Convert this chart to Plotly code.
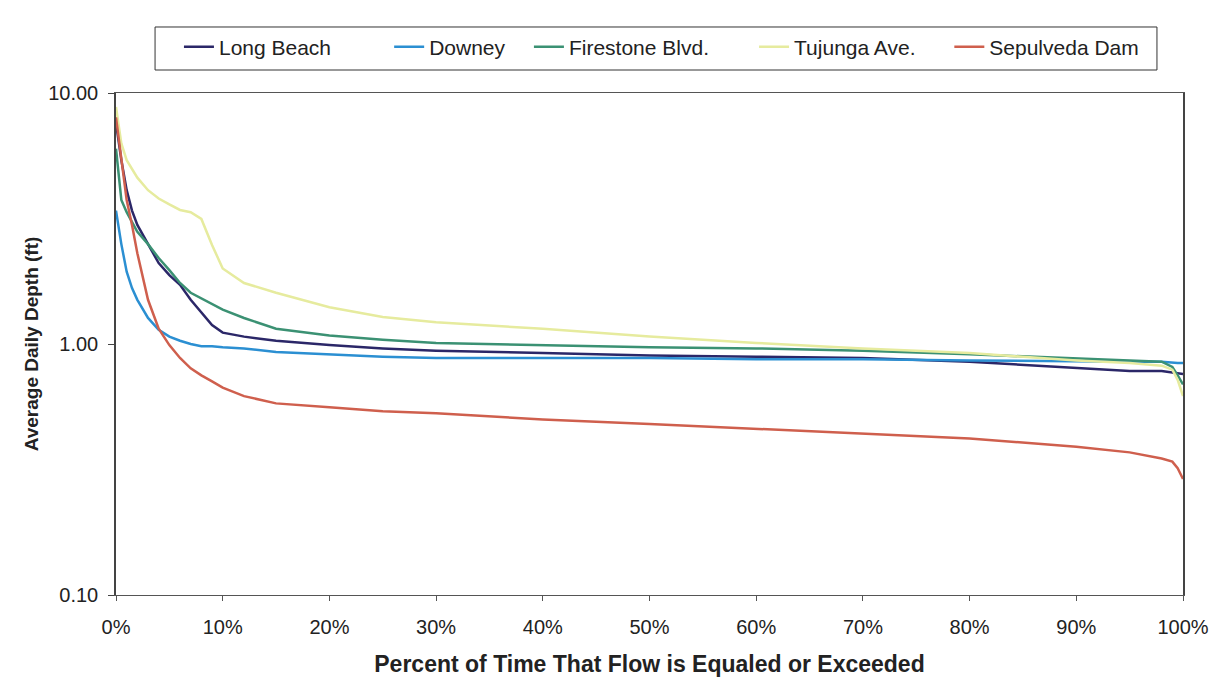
import plotly.graph_objects as go

pct = [0, 0.5, 1, 1.5, 2, 3, 4, 5, 6, 7, 8, 9, 10, 12, 15, 20, 25, 30, 40, 50,
       60, 70, 80, 90, 95, 98, 99, 99.5, 100]

long_beach = [7.6, 5.4, 4.1, 3.4, 2.98, 2.5, 2.1, 1.88, 1.72, 1.5, 1.33, 1.19, 1.11,
              1.07, 1.03, 0.99, 0.96, 0.94, 0.92, 0.90, 0.89, 0.88, 0.85, 0.80, 0.78,
              0.78, 0.77, 0.77, 0.76]
downey = [3.4, 2.5, 1.94, 1.67, 1.5, 1.27, 1.14, 1.07, 1.03, 1.0, 0.98, 0.98, 0.97,
          0.96, 0.93, 0.91, 0.89, 0.88, 0.88, 0.88, 0.87, 0.87, 0.86, 0.85, 0.85,
          0.85, 0.84, 0.84, 0.84]
firestone = [6.0, 3.75, 3.35, 3.05, 2.8, 2.5, 2.2, 1.97, 1.75, 1.6, 1.52, 1.44, 1.37,
             1.27, 1.15, 1.08, 1.04, 1.01, 0.99, 0.97, 0.96, 0.94, 0.91, 0.88, 0.86,
             0.85, 0.81, 0.75, 0.69]
tujunga = [8.8, 6.3, 5.4, 5.0, 4.6, 4.1, 3.8, 3.6, 3.42, 3.35, 3.15, 2.48, 2.0,
           1.75, 1.60, 1.40, 1.28, 1.22, 1.15, 1.07, 1.01, 0.96, 0.92, 0.86, 0.84,
           0.82, 0.79, 0.72, 0.62]
sepulveda = [8.0, 5.4, 3.75, 2.98, 2.3, 1.5, 1.15, 0.99, 0.88, 0.80, 0.75, 0.71, 0.67,
             0.62, 0.58, 0.56, 0.54, 0.53, 0.50, 0.48, 0.46, 0.44, 0.42, 0.39, 0.37,
             0.35, 0.34, 0.32, 0.29]

names = ["Long Beach", "Downey", "Firestone Blvd.", "Tujunga Ave.", "Sepulveda Dam"]
colors = ["#2b2768", "#2b8fd2", "#3b9173", "#e6eb9e", "#cf5f4d"]
values = [long_beach, downey, firestone, tujunga, sepulveda]

x_ticks = list(range(0, 101, 10))
x_tick_text = [f"{v}%" for v in x_ticks]
y_ticks = [0.1, 1, 10]
y_tick_text = ["0.10", "1.00", "10.00"]

# one legend per entry so entries can be spaced like the original
legend_x = [0.059, 0.256, 0.387, 0.598, 0.781]
legend_y = 1.0916
font = "Liberation Sans, Arial, sans-serif"

fig = go.Figure()
layout_legends = {}
for i, (name, vals, col) in enumerate(zip(names, values, colors)):
    key = "legend" if i == 0 else f"legend{i + 1}"
    fig.add_trace(go.Scatter(x=pct, y=vals, mode="lines", name=name, legend=key,
                             line=dict(color=col, width=2.5)))
    layout_legends[key] = dict(orientation="h", x=legend_x[i], y=legend_y,
                               xanchor="left", yanchor="middle", borderwidth=0,
                               bgcolor="rgba(0,0,0,0)",
                               font=dict(size=21, family=font, color="#222"))

fig.update_layout(
    width=1225, height=687,
    margin=dict(l=108, r=50, t=85, b=100, autoexpand=False),
    paper_bgcolor="white", plot_bgcolor="white",
    font=dict(family=font, size=20, color="#222"),
    showlegend=True,
    **layout_legends,
    shapes=[dict(type="rect", xref="paper", yref="paper",
                 x0=0.0366, x1=0.9756, y0=1.0458, y1=1.1315,
                 line=dict(color="#333", width=1), fillcolor="rgba(0,0,0,0)")],
    xaxis=dict(range=[0, 100], tickvals=x_ticks, ticktext=x_tick_text,
               showgrid=False, zeroline=False, showline=True, linecolor="#555",
               linewidth=1, mirror=True,
               ticks="outside", ticklen=5, tickcolor="#555", automargin=False,
               ticklabelstandoff=9,
               title=dict(text="<b>Percent of Time That Flow is Equaled or Exceeded</b>",
                          font=dict(size=23), standoff=18)),
    yaxis=dict(type="log", range=[-1, 1], tickvals=y_ticks, ticktext=y_tick_text,
               showgrid=False, zeroline=False, showline=True, linecolor="#444",
               linewidth=1.5, mirror=True, automargin=False,
               ticks="outside", ticklen=6, tickcolor="#444", ticklabelstandoff=6,
               title=dict(text="<b>Average Daily Depth (ft)</b>", font=dict(size=19),
                          standoff=5)),
)
fig.write_html("out.html")
